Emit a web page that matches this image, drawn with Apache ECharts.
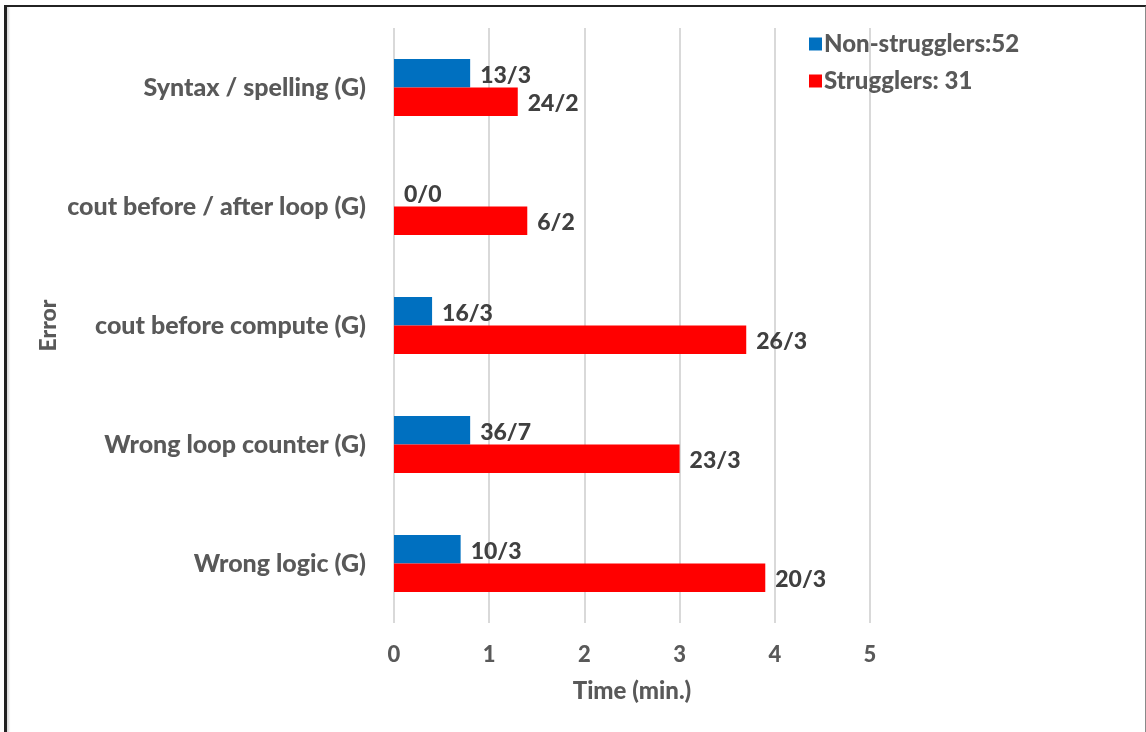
<!DOCTYPE html>
<html>
<head>
<meta charset="utf-8">
<script src="https://cdn.jsdelivr.net/npm/echarts@6/dist/echarts.min.js"></script>
<style>
  html, body { margin: 0; padding: 0; background: #fff; }
  #wrap { position: relative; width: 1146px; height: 732px; overflow: hidden; }
  #chart { position: absolute; left: 0; top: 0; width: 1146px; height: 732px; }
  #frame {
    position: absolute; left: 4px; top: 5px; width: 1138px; height: 740px;
    border-top: 2px solid #222; border-left: 3px solid #222; border-right: 2px solid #8a8a8a;
    box-shadow: inset 3px 0 2px -1px #ddd;
    pointer-events: none;
  }
</style>
</head>
<body>
<div id="wrap">
  <div id="chart"></div>
  <div id="frame"></div>
</div>
<script>
// Error categories, top to bottom
const categories = [
  'Syntax / spelling (G)',
  'cout before / after loop (G)',
  'cout before compute (G)',
  'Wrong loop counter (G)',
  'Wrong logic (G)'
];

// Average time (min.) per group
const nonStrugglerTimes = [0.8, 0, 0.4, 0.8, 0.7];
const strugglerTimes = [1.3, 1.4, 3.7, 3.0, 3.9];

// Count labels shown beside each bar
const nonStrugglerLabels = ['13/3', '0/0', '16/3', '36/7', '10/3'];
const strugglerLabels = ['24/2', '6/2', '26/3', '23/3', '20/3'];

const xTicks = [0, 1, 2, 3, 4, 5];

const seriesNames = ['Non-strugglers:52', 'Strugglers: 31'];

const FONT = 'Lato, "Open Sans", sans-serif';
const WEIGHT = 900;
const AXIS_GRAY = '#595959';
const LABEL_DARK = '#404040';

const chart = echarts.init(document.getElementById('chart'), null, { renderer: 'canvas' });

function barLabel(labels) {
  return {
    show: true,
    position: 'right',
    distance: 10,
    offset: [0, 2],
    formatter: p => labels[p.dataIndex],
    color: LABEL_DARK,
    fontFamily: FONT,
    fontWeight: WEIGHT,
    fontSize: 23
  };
}

chart.setOption({
  animation: false,
  backgroundColor: '#fff',
  grid: { left: 394, right: 276, top: 28, bottom: 109, containLabel: false },
  legend: {
    orient: 'vertical',
    left: 804,
    top: 27,
    itemWidth: 13,
    itemHeight: 13,
    itemGap: 13,
    icon: 'rect',
    data: seriesNames,
    textStyle: { color: AXIS_GRAY, fontFamily: FONT, fontWeight: WEIGHT, fontSize: 24, padding: [0, 0, 0, -3] }
  },
  xAxis: {
    type: 'value',
    min: xTicks[0],
    max: xTicks[xTicks.length - 1],
    interval: 1,
    name: 'Time (min.)',
    nameLocation: 'middle',
    nameGap: 56,
    nameTextStyle: { color: AXIS_GRAY, fontFamily: FONT, fontWeight: WEIGHT, fontSize: 24 },
    axisLine: { show: false },
    axisTick: { show: false },
    axisLabel: { color: AXIS_GRAY, fontFamily: FONT, fontWeight: WEIGHT, fontSize: 22, margin: 21 },
    splitLine: { show: true, lineStyle: { color: '#d9d9d9', width: 2 } }
  },
  yAxis: {
    type: 'category',
    inverse: true,
    data: categories,
    name: 'Error',
    nameLocation: 'middle',
    nameGap: 334,
    nameRotate: 90,
    nameTextStyle: { color: AXIS_GRAY, fontFamily: FONT, fontWeight: WEIGHT, fontSize: 23 },
    axisLine: { show: false },
    axisTick: { show: false },
    axisLabel: { color: AXIS_GRAY, fontFamily: FONT, fontWeight: WEIGHT, fontSize: 25, margin: 28 },
    splitLine: { show: false }
  },
  series: [
    {
      name: seriesNames[0],
      type: 'bar',
      data: nonStrugglerTimes,
      itemStyle: { color: '#0070C0' },
      barGap: '0%',
      barCategoryGap: '52%',
      label: barLabel(nonStrugglerLabels)
    },
    {
      name: seriesNames[1],
      type: 'bar',
      data: strugglerTimes,
      itemStyle: { color: '#FF0000' },
      barGap: '0%',
      barCategoryGap: '52%',
      label: barLabel(strugglerLabels)
    }
  ]
});
</script>
</body>
</html>
